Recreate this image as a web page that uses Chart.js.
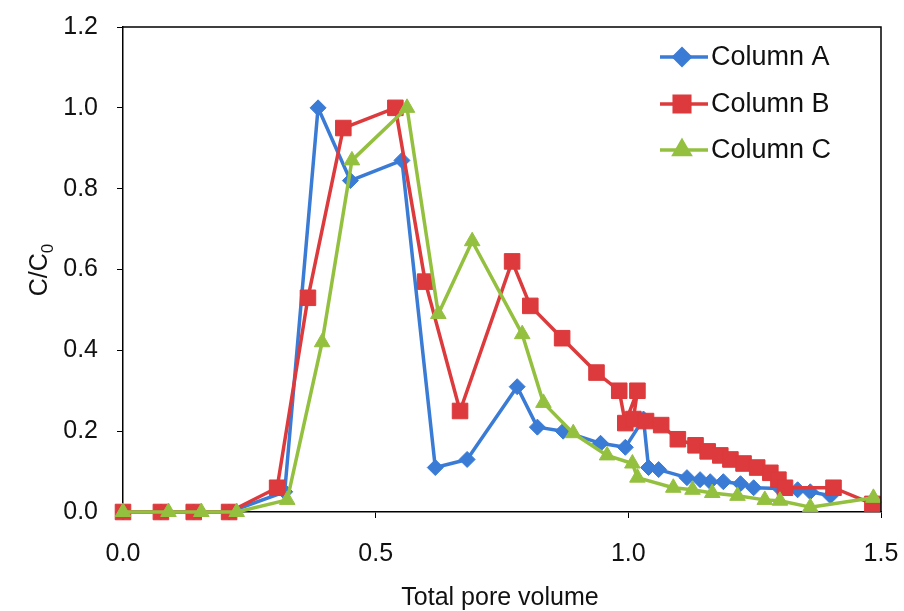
<!DOCTYPE html>
<html>
<head>
<meta charset="utf-8">
<script src="https://cdn.jsdelivr.net/npm/chart.js@4.4.1/dist/chart.umd.min.js"></script>
<style>
  html, body { margin: 0; padding: 0; background: #fff; }
  #wrap { width: 904px; height: 611px; }
</style>
</head>
<body>
<div id="wrap"><canvas id="chart" width="904" height="611"></canvas></div>
<script>
// ---- data ----
const seriesNames = ['Column A', 'Column B', 'Column C'];

const poreA = [0, 0.075, 0.14, 0.21, 0.32, 0.386, 0.45, 0.552, 0.618, 0.681, 0.78, 0.82, 0.871, 0.945, 0.994, 1.03, 1.04, 1.06, 1.116, 1.142, 1.162, 1.188, 1.222, 1.248, 1.30, 1.335, 1.36, 1.40];
const concA = [0, 0, 0, 0, 0.05, 1.0, 0.82, 0.87, 0.11, 0.13, 0.31, 0.21, 0.20, 0.17, 0.16, 0.23, 0.11, 0.105, 0.085, 0.08, 0.075, 0.075, 0.07, 0.06, 0.058, 0.055, 0.05, 0.04];

const poreB = [0, 0.075, 0.14, 0.21, 0.305, 0.366, 0.436, 0.539, 0.598, 0.667, 0.77, 0.806, 0.869, 0.937, 0.982, 0.994, 1.018, 1.01, 1.035, 1.065, 1.098, 1.133, 1.157, 1.182, 1.202, 1.228, 1.255, 1.281, 1.297, 1.31, 1.406, 1.483];
const concB = [0, 0, 0, 0, 0.06, 0.53, 0.95, 1.0, 0.57, 0.25, 0.62, 0.51, 0.43, 0.345, 0.30, 0.22, 0.30, 0.23, 0.225, 0.215, 0.18, 0.165, 0.15, 0.14, 0.13, 0.12, 0.11, 0.097, 0.08, 0.06, 0.06, 0.02];

const poreC = [0, 0.09, 0.155, 0.225, 0.325, 0.394, 0.453, 0.562, 0.624, 0.691, 0.79, 0.832, 0.891, 0.958, 1.008, 1.018, 1.089, 1.127, 1.166, 1.216, 1.27, 1.30, 1.36, 1.485];
const concC = [0, 0, 0, 0, 0.03, 0.42, 0.87, 1.0, 0.49, 0.67, 0.44, 0.27, 0.195, 0.14, 0.12, 0.085, 0.06, 0.055, 0.047, 0.04, 0.03, 0.028, 0.012, 0.035];

const xTicks = [0, 0.5, 1.0, 1.5];
const yTicks = [0, 0.2, 0.4, 0.6, 0.8, 1.0, 1.2];

const colours = ['#3a7bd5', '#dc3a3c', '#94c03f'];
const markers = [
    { pointStyle: 'rectRot', radius: 8 },
    { pointStyle: 'rect', radius: 11 },
    { pointStyle: 'triangle', radius: 9 }
];

const FONT = "'Liberation Sans', Arial, sans-serif";

function toPoints(xs, ys) {
    return xs.map((x, i) => ({ x, y: ys[i] }));
}

const pointSets = [toPoints(poreA, concA), toPoints(poreB, concB), toPoints(poreC, concC)];

const datasets = seriesNames.map((name, i) => ({
    label: name,
    data: pointSets[i],
    showLine: true,
    borderColor: colours[i],
    backgroundColor: colours[i],
    borderWidth: 3.5,
    borderJoinStyle: 'round',
    pointStyle: markers[i].pointStyle,
    pointRadius: markers[i].radius,
    pointHoverRadius: markers[i].radius,
    pointBorderWidth: 1,
    pointBorderColor: colours[i],
    pointBackgroundColor: colours[i],
    tension: 0,
    clip: false,
    order: 3 - i
}));

// frame, axis titles and the legend
const decorPlugin = {
    id: 'decor',
    afterDraw(chart) {
        const { ctx, chartArea: a } = chart;
        ctx.save();
        ctx.strokeStyle = '#000';
        ctx.lineWidth = 1.5;
        ctx.beginPath();
        ctx.moveTo(a.left, a.top);
        ctx.lineTo(a.right, a.top);
        ctx.lineTo(a.right, a.bottom);
        ctx.stroke();

        ctx.fillStyle = '#111';
        ctx.font = '25px ' + FONT;
        ctx.textAlign = 'center';
        ctx.textBaseline = 'middle';
        ctx.fillText('Total pore volume', 500, 598);

        // y title C/C0 (rotated, with subscript)
        ctx.save();
        ctx.translate(40, 270);
        ctx.rotate(-Math.PI / 2);
        ctx.textAlign = 'left';
        const main = 'C/C';
        const wMain = ctx.measureText(main).width;
        ctx.font = '17px ' + FONT;
        const wSub = ctx.measureText('0').width;
        const start = -(wMain + wSub) / 2;
        ctx.font = '25px ' + FONT;
        ctx.fillText(main, start, 0);
        ctx.font = '17px ' + FONT;
        ctx.fillText('0', start + wMain, 8);
        ctx.restore();

        // legend
        const rows = [57, 104, 150];
        chart.data.datasets.forEach((ds, i) => {
            const y = rows[i];
            ctx.strokeStyle = ds.borderColor;
            ctx.lineWidth = ds.borderWidth;
            ctx.beginPath();
            ctx.moveTo(660, y);
            ctx.lineTo(708, y);
            ctx.stroke();
            ctx.fillStyle = ds.backgroundColor;
            ctx.strokeStyle = ds.borderColor;
            Chart.helpers.drawPoint(ctx, {
                pointStyle: ds.pointStyle, radius: ds.pointRadius, rotation: 0, borderWidth: 1
            }, 682, y);
            ctx.fillStyle = '#111';
            ctx.font = '27px ' + FONT;
            ctx.textAlign = 'left';
            ctx.fillText(ds.label, 711, y + 1);
        });
        ctx.restore();
    }
};

new Chart(document.getElementById('chart'), {
    type: 'scatter',
    data: { datasets },
    options: {
        responsive: false,
        devicePixelRatio: 1,
        animation: false,
        layout: { padding: { top: 27, right: 23, left: 0, bottom: 0 } },
        plugins: { legend: { display: false }, tooltip: { enabled: false } },
        scales: {
            x: {
                type: 'linear',
                min: 0, max: 1.5,
                afterFit(scale) {
                    scale.height = 99;
                    scale.paddingLeft = 0;
                    scale.paddingRight = 0;
                },
                afterBuildTicks(scale) { scale.ticks = xTicks.map(v => ({ value: v })); },
                border: { display: true, color: '#000', width: 1.5 },
                grid: { display: true, drawOnChartArea: false, drawTicks: true, tickLength: 6, color: '#000' },
                ticks: {
                    color: '#111', padding: 21,
                    font: { family: FONT, size: 25 },
                    callback: v => v.toFixed(1)
                }
            },
            y: {
                type: 'linear',
                min: 0, max: 1.2,
                afterFit(scale) {
                    scale.width = 123;
                    scale.paddingTop = 0;
                    scale.paddingBottom = 0;
                },
                afterBuildTicks(scale) { scale.ticks = yTicks.map(v => ({ value: v })); },
                border: { display: true, color: '#000', width: 1.5 },
                grid: { display: true, drawOnChartArea: false, drawTicks: true, tickLength: 6, color: '#000' },
                ticks: {
                    color: '#111', padding: 19,
                    font: { family: FONT, size: 25 },
                    callback: v => v.toFixed(1)
                }
            }
        }
    },
    plugins: [decorPlugin]
});
</script>
</body>
</html>
